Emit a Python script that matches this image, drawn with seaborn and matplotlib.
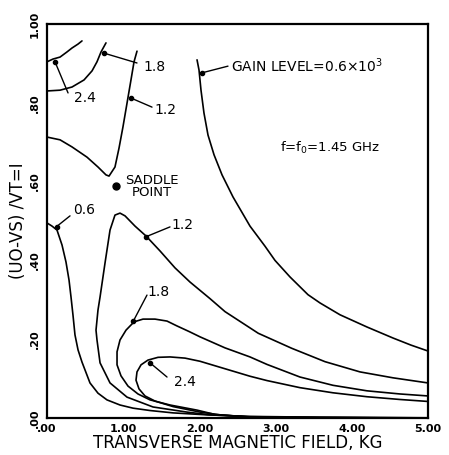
import matplotlib
matplotlib.use("Agg")
import matplotlib.pyplot as plt
import seaborn as sns

# ---- data ----
# upper-left family
c24_up_x = [0.0, 0.079, 0.171, 0.262, 0.328, 0.407, 0.459]
c24_up_y = [0.904, 0.911, 0.916, 0.929, 0.939, 0.949, 0.957]

c18_up_x = [0.0, 0.171, 0.328, 0.486, 0.591, 0.656, 0.709, 0.774]
c18_up_y = [0.830, 0.832, 0.840, 0.858, 0.881, 0.904, 0.929, 0.952]

c12_up_x = [0.0, 0.171, 0.328, 0.525, 0.669, 0.774, 0.814, 0.892, 0.945, 0.997, 1.050, 1.102, 1.142, 1.181]
c12_up_y = [0.713, 0.706, 0.688, 0.662, 0.637, 0.617, 0.614, 0.637, 0.685, 0.739, 0.799, 0.858, 0.904, 0.931]

c06_up_x = [1.969, 1.995, 2.021, 2.060, 2.113, 2.192, 2.297, 2.441, 2.664, 2.861, 2.992, 3.189, 3.425, 3.583, 3.845, 4.199, 4.541, 4.777, 5.0]
c06_up_y = [0.909, 0.883, 0.832, 0.774, 0.718, 0.668, 0.617, 0.561, 0.487, 0.436, 0.400, 0.358, 0.313, 0.292, 0.262, 0.231, 0.203, 0.185, 0.170]

# lower family
c06_lo_x = [0.0, 0.066, 0.131, 0.197, 0.249, 0.289, 0.315, 0.341, 0.367, 0.407, 0.459, 0.564, 0.669, 0.787, 0.958, 1.129, 1.352, 1.654, 2.100, 2.664, 3.583, 5.0]
c06_lo_y = [0.495, 0.487, 0.477, 0.439, 0.396, 0.350, 0.307, 0.261, 0.211, 0.173, 0.142, 0.089, 0.063, 0.046, 0.033, 0.025, 0.019, 0.013, 0.008, 0.004, 0.002, 0.0005]

c12_lo_x = [5.0, 3.583, 2.664, 2.139, 1.837, 1.391, 1.050, 0.827, 0.696, 0.656, 0.643, 0.669, 0.696, 0.761, 0.827, 0.892, 0.958, 1.024, 1.155, 1.299, 1.483, 1.680, 1.877, 2.139, 2.336, 2.773, 3.211, 3.648, 4.108, 4.541, 5.0]
c12_lo_y = [0.0003, 0.0015, 0.0033, 0.008, 0.015, 0.028, 0.053, 0.089, 0.140, 0.198, 0.223, 0.274, 0.307, 0.393, 0.477, 0.515, 0.520, 0.513, 0.487, 0.462, 0.424, 0.381, 0.345, 0.303, 0.270, 0.215, 0.177, 0.143, 0.117, 0.102, 0.089]

c18_lo_x = [5.0, 3.583, 2.664, 2.205, 1.969, 1.614, 1.352, 1.194, 1.063, 0.971, 0.919, 0.919, 0.958, 1.037, 1.142, 1.260, 1.417, 1.575, 1.702, 1.870, 2.008, 2.336, 2.664, 2.887, 3.320, 3.753, 4.199, 4.633, 5.0]
c18_lo_y = [0.0, 0.001, 0.0025, 0.009, 0.020, 0.033, 0.046, 0.061, 0.081, 0.107, 0.135, 0.168, 0.198, 0.223, 0.244, 0.251, 0.251, 0.246, 0.234, 0.219, 0.206, 0.178, 0.155, 0.136, 0.104, 0.083, 0.069, 0.061, 0.056]

c24_lo_x = [5.0, 3.583, 2.664, 2.270, 2.008, 1.654, 1.417, 1.286, 1.207, 1.168, 1.181, 1.234, 1.325, 1.457, 1.614, 1.811, 2.008, 2.336, 2.664, 2.887, 3.320, 3.753, 4.199, 4.633, 5.0]
c24_lo_y = [0.0, 0.0008, 0.002, 0.008, 0.015, 0.029, 0.043, 0.056, 0.074, 0.096, 0.117, 0.135, 0.147, 0.154, 0.155, 0.152, 0.144, 0.125, 0.106, 0.095, 0.077, 0.064, 0.054, 0.047, 0.042]

curves = [(c24_up_x, c24_up_y), (c18_up_x, c18_up_y), (c12_up_x, c12_up_y), (c06_up_x, c06_up_y),
          (c06_lo_x, c06_lo_y), (c12_lo_x, c12_lo_y), (c18_lo_x, c18_lo_y), (c24_lo_x, c24_lo_y)]

# labels: text, text position, leader end, point on curve
label_texts = ["2.4", "1.8", "1.2", "0.6", "1.2", "1.8", "2.4"]
label_pos = [(0.499, 0.812), (1.417, 0.891), (1.549, 0.782), (0.486, 0.528), (1.772, 0.490), (1.457, 0.320), (1.811, 0.091)]
leader_end = [(0.276, 0.825), (1.181, 0.901), (1.378, 0.789), (0.302, 0.513), (1.614, 0.485), (1.312, 0.312), (1.575, 0.104)]
curve_pts = [(0.105, 0.904), (0.748, 0.926), (1.102, 0.812), (0.127, 0.486), (1.299, 0.460), (1.133, 0.246), (1.352, 0.140)]

gain_text = "GAIN LEVEL=0.6×10$^{\\mathregular{3}}$"
gain_pos = (2.415, 0.893)
gain_leader = (2.375, 0.893)
gain_pt = (2.034, 0.876)
freq_text = "f=f$_{\\mathregular{0}}$=1.45 GHz"
freq_pos = (3.058, 0.685)
saddle_pt = (0.902, 0.590)
saddle_text = "SADDLE\nPOINT"
saddle_pos = (1.370, 0.588)

x_ticks = [0, 1, 2, 3, 4, 5]
x_ticklabels = [".00", "1.00", "2.00", "3.00", "4.00", "5.00"]
y_ticks = [0.0, 0.2, 0.4, 0.6, 0.8, 1.0]
y_ticklabels = [".00", ".20", ".40", ".60", ".80", "1.00"]
x_label = "TRANSVERSE MAGNETIC FIELD, KG"
y_label = "(UO-VS) /VT=I"

# ---- plot ----
sns.set_style("white")
plt.rcParams['font.family'] = ['DejaVu Sans']
plt.rcParams['text.color'] = 'black'
plt.rcParams['axes.labelcolor'] = 'black'
plt.rcParams['xtick.color'] = 'black'
plt.rcParams['ytick.color'] = 'black'

fig = plt.figure(figsize=(4.49, 4.55), dpi=100)
ax = fig.add_axes([0.1047, 0.0813, 0.8485, 0.866])

for cx, cy in curves:
    sns.lineplot(x=cx, y=cy, sort=False, estimator=None, color="black", lw=1.2, ax=ax)

for t, tp, le, cp in zip(label_texts, label_pos, leader_end, curve_pts):
    ax.plot([cp[0], le[0]], [cp[1], le[1]], color="black", lw=1.0)
    ax.plot([cp[0]], [cp[1]], marker="o", ms=3, color="black")
    ax.text(tp[0], tp[1], t, ha="center", va="center", fontsize=10, color="black")

ax.plot([gain_pt[0], gain_leader[0]], [gain_pt[1], gain_leader[1]], color="black", lw=1.0)
ax.plot([gain_pt[0]], [gain_pt[1]], marker="o", ms=3, color="black")
ax.text(gain_pos[0], gain_pos[1], gain_text, ha="left", va="center", fontsize=10, color="black")
ax.text(freq_pos[0], freq_pos[1], freq_text, ha="left", va="center", fontsize=9.5, color="black")
ax.plot([saddle_pt[0]], [saddle_pt[1]], marker="o", ms=5, color="black")
ax.text(saddle_pos[0], saddle_pos[1], saddle_text, ha="center", va="center", fontsize=9.5,
        linespacing=0.95, color="black")

ax.set_xlim(0, 5)
ax.set_ylim(0, 1)
ax.set_xticks(x_ticks)
ax.set_xticklabels(x_ticklabels, fontsize=8, fontweight="bold")
ax.set_yticks(y_ticks)
ax.set_yticklabels(y_ticklabels, fontsize=8, fontweight="bold", rotation=90, va="center")
ax.tick_params(axis="both", direction="inout", length=6, width=1.2, pad=1, color="black")
ax.tick_params(axis="y", pad=2)
for s in ax.spines.values():
    s.set_linewidth(1.6)
    s.set_color("black")
ax.set_xlabel(x_label, fontsize=12, labelpad=0)
ax.set_ylabel(y_label, fontsize=12, labelpad=2)

fig.savefig("out.png", dpi=100, facecolor="white")
